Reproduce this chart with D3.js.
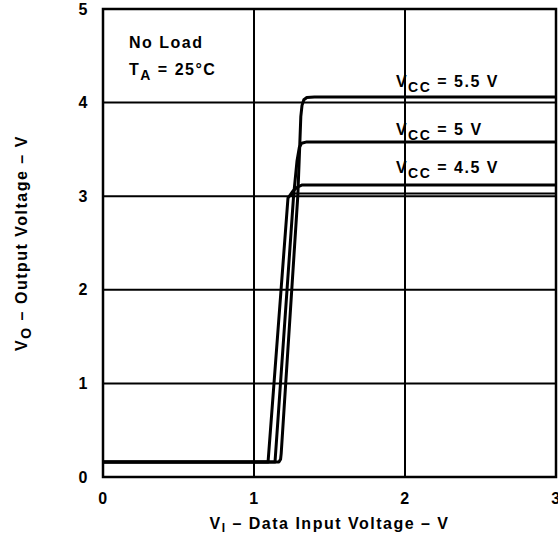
<!DOCTYPE html>
<html>
<head>
<meta charset="utf-8">
<script src="https://cdn.jsdelivr.net/npm/d3@7"></script>
<style>
  body { margin: 0; background: #fff; }
  text { font-family: "Liberation Sans", Arial, sans-serif; font-weight: bold; fill: #000; letter-spacing: 1.5px; }
</style>
</head>
<body>
<div id="chart"></div>
<script>
// Curves: [input voltage, output voltage]
const vcc55 = [[0, 0.16], [1.165, 0.16], [1.176, 0.19], [1.18, 0.25], [1.29, 3], [1.302, 3.5], [1.31, 3.85], [1.318, 3.97], [1.33, 4.03], [1.35, 4.055], [1.4, 4.06], [3, 4.06]];
const vcc5 = [[0, 0.16], [1.139, 0.16], [1.262, 3], [1.285, 3.38], [1.3, 3.52], [1.315, 3.565], [1.35, 3.58], [3, 3.58]];
const vcc45 = [[0, 0.16], [1.093, 0.16], [1.225, 2.98], [1.26, 3.06], [1.29, 3.1], [1.32, 3.12], [3, 3.12]];
const trace45 = [[1.23, 3.0], [1.27, 3.03], [3, 3.03]];

const curveLabels = ["5.5 V", "5 V", "4.5 V"];
const labelLevels = [4.06, 3.55, 3.14];

const xTicks = [0, 1, 2, 3];
const yTicks = [0, 1, 2, 3, 4, 5];

// Layout
const W = 558, H = 537;
const margin = { top: 9, right: 2, bottom: 60, left: 103 };
const width = W - margin.left - margin.right;
const height = H - margin.top - margin.bottom;

const svg = d3.select("#chart")
  .append("svg")
  .attr("width", W)
  .attr("height", H);

const g = svg.append("g")
  .attr("transform", `translate(${margin.left},${margin.top})`);

const x = d3.scaleLinear().domain([0, 3]).range([0, width]);
const y = d3.scaleLinear().domain([0, 5]).range([height, 0]);

// Grid lines
g.selectAll(".vgrid")
  .data(xTicks.slice(1, -1))
  .enter().append("line")
  .attr("x1", d => x(d)).attr("x2", d => x(d))
  .attr("y1", 0).attr("y2", height)
  .attr("stroke", "#000").attr("stroke-width", 2);

g.selectAll(".hgrid")
  .data(yTicks.slice(1, -1))
  .enter().append("line")
  .attr("x1", 0).attr("x2", width)
  .attr("y1", d => y(d)).attr("y2", d => y(d))
  .attr("stroke", "#000").attr("stroke-width", 2);

// Frame
g.append("rect")
  .attr("x", 0).attr("y", 0)
  .attr("width", width).attr("height", height)
  .attr("fill", "none")
  .attr("stroke", "#000")
  .attr("stroke-width", 2.5);

// Axes (labels only)
const xAxis = g.append("g")
  .attr("transform", `translate(0,${height})`)
  .call(d3.axisBottom(x).tickValues(xTicks).tickSize(0).tickPadding(16).tickFormat(d3.format("d")));
xAxis.select(".domain").remove();
xAxis.selectAll("text").style("font-size", "16px").style("font-family", null);

const yAxis = g.append("g")
  .call(d3.axisLeft(y).tickValues(yTicks).tickSize(0).tickPadding(14).tickFormat(d3.format("d")));
yAxis.select(".domain").remove();
yAxis.selectAll("text").style("font-size", "16px").style("font-family", null);

// Curves
const line = d3.line()
  .x(d => x(d[0]))
  .y(d => y(d[1]));

[vcc45, vcc5, vcc55].forEach(s => {
  g.append("path")
    .datum(s)
    .attr("d", line)
    .attr("fill", "none")
    .attr("stroke", "#000")
    .attr("stroke-width", 3)
    .attr("stroke-linejoin", "round");
});

g.append("path")
  .datum(trace45)
  .attr("d", line)
  .attr("fill", "none")
  .attr("stroke", "#000")
  .attr("stroke-width", 2);

// Curve labels
curveLabels.forEach((lab, i) => {
  const t = g.append("text")
    .attr("x", x(1.94))
    .attr("y", y(labelLevels[i]) - 10)
    .style("font-size", "16px");
  t.append("tspan").text("V");
  t.append("tspan").attr("dy", 5).style("font-size", "14px").text("CC");
  t.append("tspan").attr("dy", -5).text(" = " + lab);
});

// Conditions
g.append("text")
  .attr("x", 26).attr("y", 39)
  .style("font-size", "16px")
  .text("No Load");
const ta = g.append("text")
  .attr("x", 26).attr("y", 66)
  .style("font-size", "16px");
ta.append("tspan").text("T");
ta.append("tspan").attr("dy", 5).style("font-size", "14px").text("A");
ta.append("tspan").attr("dy", -5).text(" = 25°C");

// Axis titles
const xt = svg.append("text")
  .attr("x", margin.left + width / 2)
  .attr("y", 529)
  .attr("text-anchor", "middle")
  .style("font-size", "16px");
xt.append("tspan").text("V");
xt.append("tspan").attr("dy", 3).style("font-size", "12px").text("I");
xt.append("tspan").attr("dy", -3).text(" – Data Input Voltage – V");

const yt = svg.append("text")
  .attr("transform", `translate(27,${margin.top + height / 2}) rotate(-90)`)
  .attr("text-anchor", "middle")
  .style("font-size", "16px");
yt.append("tspan").text("V");
yt.append("tspan").attr("dy", 4).style("font-size", "14px").text("O");
yt.append("tspan").attr("dy", -4).text(" – Output Voltage – V");
</script>
</body>
</html>
